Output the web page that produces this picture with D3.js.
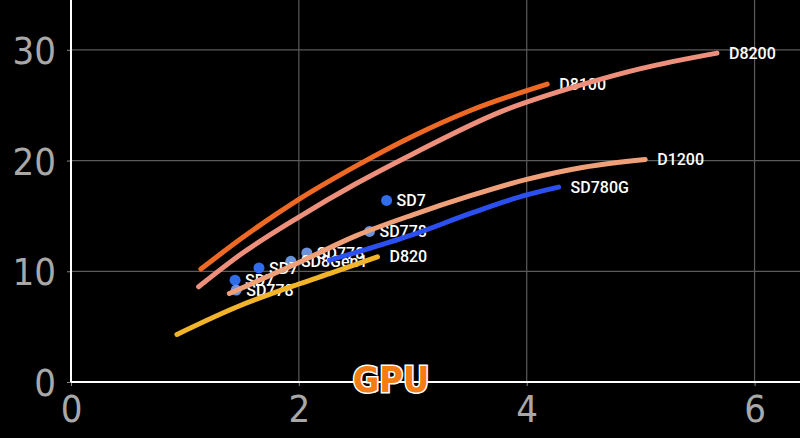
<!DOCTYPE html>
<html>
<head>
<meta charset="utf-8">
<script src="https://cdn.jsdelivr.net/npm/d3@7"></script>
<style>
  html, body { margin: 0; padding: 0; background: #000; }
  svg { display: block; }
</style>
</head>
<body>
<div id="container"></div>
<script>
var w = 800,
  h = 438;

// curve data (x = GPU power, y = performance)
var d8100 = [[1.14, 10.2], [1.5, 13.0], [2, 16.5], [2.5, 19.5], [3, 22.2], [3.5, 24.5], [4.18, 26.9]];
var d8200 = [[1.12, 8.6], [1.5, 11.6], [2, 14.9], [2.5, 17.9], [3, 20.6], [3.77, 24.4], [4.5, 26.9], [5, 28.3], [5.67, 29.7]];
var d1200 = [[1.39, 8.0], [2, 10.8], [2.5, 13.2], [3, 15.1], [3.5, 16.8], [4, 18.3], [4.5, 19.4], [5.04, 20.1]];
var sd780g = [[2.27, 11.0], [2.6, 12.0], [3, 13.3], [3.5, 15.2], [4, 16.9], [4.28, 17.6]];
var d820 = [[0.93, 4.3], [1.46, 6.8], [2, 8.85], [2.3, 9.9], [2.69, 11.3]];

var seriesNames = ["D8100", "D8200", "D1200", "SD780G", "D820"];
var seriesData = [d8100, d8200, d1200, sd780g, d820];
var seriesColors = ["#ee6a24", "#ee8f7c", "#f0a078", "#2c4ff0", "#f2b52a"];

// single points
var pointNames = ["SD7", "SD778", "SD7", "SD8Gen1", "SD778", "SD778", "SD7"];
var pointX = [1.44, 1.45, 1.65, 1.93, 2.07, 2.62, 2.77];
var pointY = [9.2, 8.3, 10.3, 10.9, 11.65, 13.6, 16.4];
var pointKind = [0, 1, 0, 1, 1, 1, 0];

var xTicks = [0, 2, 4, 6];
var yTicks = [0, 10, 20, 30];

var svg = d3.select("#container").append("svg")
  .attr("width", w)
  .attr("height", h)
  .style("background", "#000");

var x = d3.scaleLinear().domain([0, 6.39]).range([71, 799]);
var y = d3.scaleLinear().domain([0, 34.5]).range([382, 0]);

var tickFont = "'Liberation Sans Narrow', 'DejaVu Sans Condensed', sans-serif";

// grid
svg.append("g")
  .selectAll("line")
  .data(yTicks.filter(d => d > 0))
  .enter()
  .append("line")
  .attr("x1", x(0)).attr("x2", w)
  .attr("y1", d => y(d)).attr("y2", d => y(d))
  .attr("stroke", "#5a5a5a").attr("stroke-width", 1.2);

svg.append("g")
  .selectAll("line")
  .data(xTicks.filter(d => d > 0))
  .enter()
  .append("line")
  .attr("x1", d => x(d)).attr("x2", d => x(d))
  .attr("y1", 0).attr("y2", y(0))
  .attr("stroke", "#5a5a5a").attr("stroke-width", 1.2);

// axes
var yAxis = svg.append("g")
  .attr("transform", "translate(" + x(0) + ",0)")
  .call(d3.axisLeft(y).tickValues(yTicks).tickFormat(d3.format("d")).tickSize(4).tickPadding(11));
var xAxis = svg.append("g")
  .attr("transform", "translate(0," + y(0) + ")")
  .call(d3.axisBottom(x).tickValues(xTicks).tickFormat(d3.format("d")).tickSize(4).tickPadding(9));

[yAxis, xAxis].forEach(function (a) {
  a.select(".domain").remove();
  a.selectAll(".tick line").attr("stroke", "#888");
  a.selectAll("text")
    .attr("fill", "#a8a8a8")
    .style("font-family", tickFont)
    .style("font-size", "38px");
});
yAxis.selectAll("text").attr("dy", "0.36em");
xAxis.selectAll("text").attr("dy", "0.72em");

svg.append("line")
  .attr("x1", x(0)).attr("x2", x(0)).attr("y1", 0).attr("y2", y(0))
  .attr("stroke", "#fff").attr("stroke-width", 2);
svg.append("line")
  .attr("x1", x(0)).attr("x2", w).attr("y1", y(0)).attr("y2", y(0))
  .attr("stroke", "#fff").attr("stroke-width", 2);

var labelFont = "Roboto, 'DejaVu Sans', sans-serif";

// points and their labels (drawn under the curves, as in the original)
var pts = pointNames.map((n, i) => ({ name: n, x: pointX[i], y: pointY[i], k: pointKind[i] }));

svg.append("g")
  .selectAll("circle")
  .data(pts)
  .enter()
  .append("circle")
  .attr("cx", d => x(d.x))
  .attr("cy", d => y(d.y))
  .attr("r", 5.5)
  .attr("fill", d => d.k ? "#6a93dc" : "#2f6cf0");

svg.append("g")
  .selectAll("text")
  .data(pts)
  .enter()
  .append("text")
  .attr("x", d => x(d.x) + 10)
  .attr("y", d => y(d.y))
  .attr("dy", "0.35em")
  .attr("fill", "#fff")
  .style("font-family", labelFont)
  .style("font-weight", 500)
  .style("font-size", "16px")
  .text(d => d.name);

// curve end labels
svg.append("g")
  .selectAll("text")
  .data(seriesData)
  .enter()
  .append("text")
  .attr("x", d => x(d[d.length - 1][0]) + 12)
  .attr("y", d => y(d[d.length - 1][1]))
  .attr("dy", "0.35em")
  .attr("fill", "#fff")
  .style("font-family", labelFont)
  .style("font-weight", 500)
  .style("font-size", "16px")
  .text((d, i) => seriesNames[i]);

// curves
var line = d3.line()
  .x(d => x(d[0]))
  .y(d => y(d[1]))
  .curve(d3.curveMonotoneX);

svg.append("g")
  .selectAll("path")
  .data(seriesData)
  .enter()
  .append("path")
  .attr("d", line)
  .attr("fill", "none")
  .attr("stroke", (d, i) => seriesColors[i])
  .attr("stroke-width", 5)
  .attr("stroke-linecap", "round");

// title
svg.append("text")
  .attr("x", 391)
  .attr("y", 379)
  .attr("text-anchor", "middle")
  .attr("dy", "0.35em")
  .attr("fill", "#f57c12")
  .attr("stroke", "#fff")
  .attr("stroke-width", 3)
  .attr("paint-order", "stroke")
  .style("font-family", "'DejaVu Sans Condensed', 'Liberation Sans Narrow', sans-serif")
  .style("font-weight", "bold")
  .style("font-size", "36px")
  .text("GPU");
</script>
</body>
</html>
